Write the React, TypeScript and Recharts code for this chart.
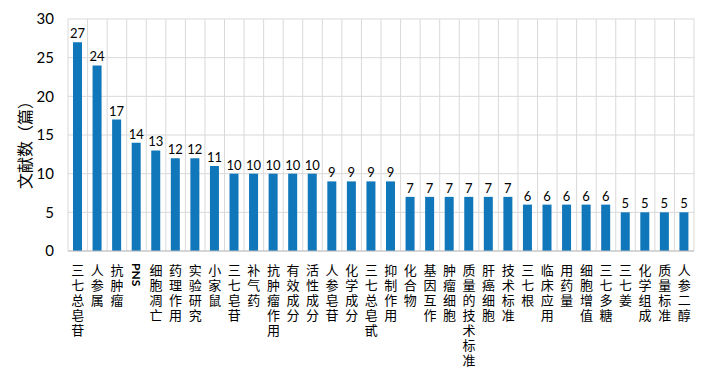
import { BarChart, Bar, XAxis, YAxis, CartesianGrid, LabelList } from "recharts";

const categories = [
  "三七总皂苷", "人参属", "抗肿瘤", "PNS", "细胞凋亡", "药理作用", "实验研究", "小家鼠",
  "三七皂苷", "补气药", "抗肿瘤作用", "有效成分", "活性成分", "人参皂苷", "化学成分", "三七总皂甙",
  "抑制作用", "化合物", "基因互作", "肿瘤细胞", "质量的技术标准", "肝癌细胞", "技术标准", "三七根",
  "临床应用", "用药量", "细胞增值", "三七多糖", "三七姜", "化学组成", "质量标准", "人参二醇",
];

const counts = [
  27, 24, 17, 14, 13, 12, 12, 11,
  10, 10, 10, 10, 10, 9, 9, 9,
  9, 7, 7, 7, 7, 7, 7, 6,
  6, 6, 6, 6, 5, 5, 5, 5,
];

const yTicks = [0, 5, 10, 15, 20, 25, 30];

const data = categories.map((name, i) => ({ name, value: counts[i] }));

const FONT = "Lato, 'Noto Sans CJK SC', sans-serif";
const CJK = "'Noto Sans CJK SC', sans-serif";

// one character per line; latin labels are turned sideways
function VerticalTick(props: any) {
  const { x, y, payload } = props;
  const label: string = payload.value;
  if (/^[A-Za-z]+$/.test(label)) {
    return (
      <text
        transform={`translate(${x - 4}, ${y + 4}) rotate(90)`}
        fontSize={12}
        fontWeight="bold"
        fontFamily={FONT}
        fill="#000"
        textAnchor="start"
      >
        {label}
      </text>
    );
  }
  return (
    <g>
      {label.split("").map((ch, i) => (
        <text
          key={i}
          x={x}
          y={y + 16 + i * 15}
          textAnchor="middle"
          fontSize={13}
          fontFamily={CJK}
          fill="#000"
        >
          {ch}
        </text>
      ))}
    </g>
  );
}

export default function App() {
  return (
    <div style={{ position: "absolute", left: 0, top: 0, background: "#fff" }}>
      <BarChart
        width={708}
        height={377}
        data={data}
        margin={{ top: 19, right: 14, left: 0, bottom: 0 }}
        barCategoryGap={0}
      >
        <CartesianGrid
          stroke="#D9D9D9"
          verticalCoordinatesGenerator={({ offset }: any) =>
            Array.from({ length: categories.length + 1 }, (_, i) => offset.left + (i * offset.width) / categories.length)
          }
        />
        <XAxis
          dataKey="name"
          interval={0}
          height={126}
          tickLine={false}
          axisLine={{ stroke: "#BFBFBF" }}
          tick={<VerticalTick />}
        />
        <YAxis
          width={68}
          domain={[0, 30]}
          ticks={yTicks}
          tickLine={false}
          axisLine={false}
          tickSize={0}
          tickMargin={14}
          tick={{ fontSize: 15, fill: "#000", fontFamily: FONT }}
          label={{
            content: () => (
              <text
                transform="translate(24, 141) rotate(-90)"
                textAnchor="middle"
                dominantBaseline="central"
                fontSize={16}
                fontFamily={CJK}
                fill="#000"
              >
                文献数（篇）
              </text>
            ),
          }}
        />
        <Bar dataKey="value" fill="#0F77BA" barSize={9} isAnimationActive={false}>
          <LabelList dataKey="value" position="top" offset={4} fill="#000" fontSize={13} fontFamily={FONT} />
        </Bar>
      </BarChart>
    </div>
  );
}
